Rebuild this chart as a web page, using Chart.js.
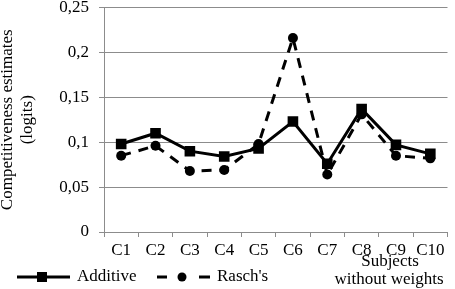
<!DOCTYPE html>
<html><head><meta charset="utf-8">
<script src="https://cdn.jsdelivr.net/npm/chart.js@4"></script>
<style>html,body{margin:0;padding:0;background:#fff}#wrap{width:455px;height:289px;position:relative}</style>
</head><body><div id="wrap"><canvas id="c" width="455" height="289"></canvas></div>
<script>
const categories = ['C1','C2','C3','C4','C5','C6','C7','C8','C9','C10'];
const additive = [0.098,0.110,0.090,0.084,0.093,0.123,0.076,0.137,0.097,0.087];
const rasch = [0.085,0.096,0.068,0.069,0.098,0.216,0.064,0.131,0.085,0.082];
const yTicks = [0,0.05,0.1,0.15,0.2,0.25];
const yTickLabels = ['0','0,05','0,1','0,15','0,2','0,25'];
const seriesNames = ['Additive',"Rasch's"];
const yTitle = ['Competitiveness estimates','(logits)'];
const xTitle = ['Subjects','without weights'];

const FONT = 'Liberation Serif';
const FS = 17;
const GRID = '#8c8c8c';

const extras = {
  id:'extras',
  afterDraw(chart){
    const ctx = chart.ctx;
    ctx.save();
    ctx.font = FS+'px "'+FONT+'"';
    ctx.fillStyle = '#000';
    ctx.textBaseline = 'middle';
    // x title
    ctx.textAlign = 'center';
    ctx.fillText(xTitle[0], 390, 262);
    ctx.fillText(xTitle[1], 389, 280);
    // legend
    const ly = 277;
    const ds = chart.data.datasets;
    ctx.strokeStyle = '#000'; ctx.lineWidth = 3;
    ctx.setLineDash([]);
    ctx.beginPath(); ctx.moveTo(17, ly); ctx.lineTo(70, ly); ctx.stroke();
    ctx.fillStyle = '#000';
    ctx.fillRect(37, ly-5, 10, 10);
    ctx.textAlign = 'left';
    ctx.fillText(ds[0].label, 77, ly);
    ctx.beginPath(); ctx.moveTo(157, ly); ctx.lineTo(167, ly); ctx.moveTo(199, ly); ctx.lineTo(210, ly); ctx.stroke();
    ctx.beginPath(); ctx.arc(182, ly, 4.5, 0, Math.PI*2); ctx.fill();
    ctx.fillText(ds[1].label, 217, ly);
    ctx.restore();
  }
};

new Chart(document.getElementById('c'), {
  type:'line',
  data:{
    labels: categories,
    datasets:[
      {label: seriesNames[0], data: additive, borderColor:'#000', backgroundColor:'#000', borderWidth:3,
       pointStyle:'rect', pointRadius:7.5, pointBorderWidth:0, tension:0},
      {label: seriesNames[1], data: rasch, borderColor:'#000', backgroundColor:'#000', borderWidth:3,
       borderDash:[10,8], pointStyle:'circle', pointRadius:5, pointBorderWidth:0, tension:0}
    ]
  },
  options:{
    responsive:false, animation:false,
    layout:{padding:{top:5,right:1,left:0,bottom:0}},
    plugins:{legend:{display:false}, tooltip:{enabled:false}},
    scales:{
      x:{
        offset:true,
        grid:{offset:true, drawOnChartArea:false, drawTicks:true, tickLength:5, color:GRID, lineWidth:1},
        border:{color:GRID, width:1},
        ticks:{font:{family:FONT,size:FS}, color:'#000', padding:3, maxRotation:0, autoSkip:false},
        afterFit(s){ s.height = 57; s.paddingLeft=0; s.paddingRight=0; }
      },
      y:{
        min:0, max:0.25,
        afterBuildTicks(s){ s.ticks = yTicks.map(v=>({value:v})); },
        grid:{color:GRID, lineWidth:1, tickLength:5},
        border:{color:GRID, width:1},
        ticks:{font:{family:FONT,size:FS}, color:'#000', padding:10,
          callback:(v)=>{ const i = yTicks.findIndex(t=>Math.abs(t-v)<1e-9); return i>=0?yTickLabels[i]:''; }},
        title:{display:true, text:yTitle, font:{family:FONT,size:FS,lineHeight:1.15}, color:'#000', padding:{top:-2,bottom:0}},
        afterFit(s){ s.width = 104; s.paddingTop=0; s.paddingBottom=0; }
      }
    }
  },
  plugins:[extras]
});
</script></body></html>
